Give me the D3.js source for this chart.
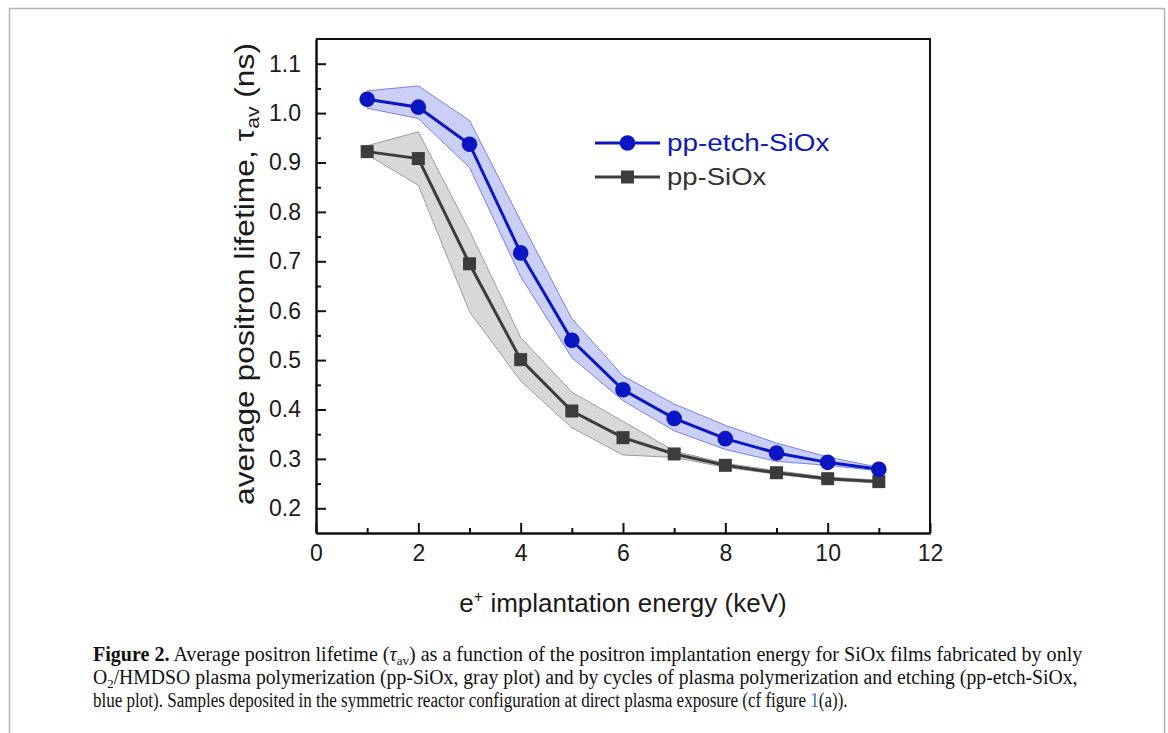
<!DOCTYPE html>
<html>
<head>
<meta charset="utf-8">
<script src="https://cdn.jsdelivr.net/npm/d3@7"></script>
<style>
  html, body { margin: 0; padding: 0; background: #fff; }
  svg { display: block; }
</style>
</head>
<body>
<svg id="fig" width="1168" height="733"></svg>
<script>
// Implantation energies (keV)
const energy = [1, 2, 3, 4, 5, 6, 7, 8, 9, 10, 11];

// pp-etch-SiOx: average lifetime and band limits (ns)
const etchTau  = [1.028, 1.012, 0.937, 0.717, 0.540, 0.440, 0.382, 0.341, 0.312, 0.293, 0.279];
const etchLow  = [1.010, 0.989, 0.890, 0.669, 0.505, 0.418, 0.357, 0.319, 0.295, 0.287, 0.276];
const etchHigh = [1.045, 1.055, 0.985, 0.782, 0.584, 0.468, 0.411, 0.368, 0.332, 0.304, 0.283];

// pp-SiOx: average lifetime and band limits (ns)
const siTau  = [0.922, 0.908, 0.695, 0.501, 0.397, 0.343, 0.310, 0.287, 0.272, 0.260, 0.254];
const siLow  = [0.916, 0.854, 0.598, 0.458, 0.363, 0.308, 0.303, 0.283, 0.269, 0.257, 0.251];
const siHigh = [0.934, 0.962, 0.762, 0.546, 0.435, 0.376, 0.316, 0.291, 0.276, 0.263, 0.257];

// Axis ticks
const xMajor = [0, 2, 4, 6, 8, 10, 12];
const xMinor = [1, 3, 5, 7, 9, 11];
const yMajor = [0.2, 0.3, 0.4, 0.5, 0.6, 0.7, 0.8, 0.9, 1.0, 1.1];
const yMinor = [0.25, 0.35, 0.45, 0.55, 0.65, 0.75, 0.85, 0.95, 1.05];

const seriesNames = ["pp-etch-SiOx", "pp-SiOx"];

const svg = d3.select("#fig");
const sansFont = "'Liberation Sans', Arial, sans-serif";
const serifFont = "'Liberation Serif', 'Times New Roman', serif";

// stretch or squeeze a text block horizontally (in its own frame) to a given width
function fitWidth(g, target) {
  const w = g.node().getBBox().width;
  return target / w;
}

// page frame
svg.append("path")
  .attr("d", "M9.5,740 V8.5 H1164.5 V740")
  .attr("fill", "none").attr("stroke", "#b4b4b4").attr("stroke-width", 1.5);

const L = 316, R = 930, T = 39, B = 533;
const x = d3.scaleLinear().domain([0, 12]).range([L, R]);
const y = d3.scaleLinear().domain([0.15, 1.15]).range([B, T]);

const blue = "#0a16c4";
const grey = "#3c3c3c";

function rows(tau, lo, hi) {
  return energy.map((e, i) => ({ e, v: tau[i], lo: lo[i], hi: hi[i] }));
}
const etch = rows(etchTau, etchLow, etchHigh);
const si = rows(siTau, siLow, siHigh);

const band = d3.area().x(d => x(d.e)).y0(d => y(d.lo)).y1(d => y(d.hi));
const line = d3.line().x(d => x(d.e)).y(d => y(d.v));

// uncertainty bands
svg.append("path").datum(si).attr("d", band)
  .attr("fill", "#d8d8d8").attr("stroke", "#9c9c9c").attr("stroke-width", 1);
svg.append("path").datum(etch).attr("d", band)
  .attr("fill", "#cbcff5").attr("stroke", "#7482e6").attr("stroke-width", 1);

// series lines
svg.append("path").datum(si).attr("d", line)
  .attr("fill", "none").attr("stroke", grey).attr("stroke-width", 3);
svg.append("path").datum(etch).attr("d", line)
  .attr("fill", "none").attr("stroke", blue).attr("stroke-width", 3);

// markers
const sq = 13;
svg.append("g").selectAll("rect").data(si).join("rect")
  .attr("x", d => x(d.e) - sq / 2).attr("y", d => y(d.v) - sq / 2)
  .attr("width", sq).attr("height", sq).attr("fill", grey);
svg.append("g").selectAll("circle").data(etch).join("circle")
  .attr("cx", d => x(d.e)).attr("cy", d => y(d.v)).attr("r", 7.8).attr("fill", blue);

// axes frame (top and right)
svg.append("path")
  .attr("d", `M${L},${T} H${R} V${B}`)
  .attr("fill", "none").attr("stroke", "#111").attr("stroke-width", 2);

function styleAxis(g) {
  g.select(".domain").attr("stroke", "#111").attr("stroke-width", 2);
  g.selectAll(".tick line").attr("stroke", "#111").attr("stroke-width", 2);
  g.selectAll(".tick text").attr("fill", "#1a1a1a")
    .style("font-family", sansFont).style("font-size", "23px");
}

// x axis
const gx = svg.append("g").attr("transform", `translate(0,${B})`)
  .call(d3.axisBottom(x).tickValues(xMajor).tickFormat(d3.format("d"))
    .tickSizeInner(-10).tickSizeOuter(0).tickPadding(12));
styleAxis(gx);
const gxm = svg.append("g").attr("transform", `translate(0,${B})`)
  .call(d3.axisBottom(x).tickValues(xMinor).tickFormat("")
    .tickSizeInner(-5).tickSizeOuter(0));
styleAxis(gxm);

// y axis
const gy = svg.append("g").attr("transform", `translate(${L},0)`)
  .call(d3.axisLeft(y).tickValues(yMajor).tickFormat(d3.format(".1f"))
    .tickSizeInner(-10).tickSizeOuter(0).tickPadding(15));
styleAxis(gy);
const gym = svg.append("g").attr("transform", `translate(${L},0)`)
  .call(d3.axisLeft(y).tickValues(yMinor).tickFormat("")
    .tickSizeInner(-5).tickSizeOuter(0));
styleAxis(gym);

// axis titles
const xt = svg.append("text")
  .attr("x", (L + R) / 2).attr("y", 612)
  .attr("text-anchor", "middle")
  .style("font-family", sansFont).style("font-size", "26px").attr("fill", "#1a1a1a");
xt.append("tspan").text("e");
xt.append("tspan").attr("dy", -10).style("font-size", "16px").text("+");
xt.append("tspan").attr("dy", 10).text(" implantation energy (keV)");

const ytWrap = svg.append("g");
const yt = ytWrap.append("text")
  .attr("text-anchor", "middle")
  .style("font-family", sansFont).style("font-size", "27px").attr("fill", "#1a1a1a");
yt.append("tspan").text("average positron lifetime, \u03c4");
yt.append("tspan").attr("dy", 5).style("font-size", "18px").text("av");
yt.append("tspan").attr("dy", -5).text(" (ns)");
const ytScale = fitWidth(yt, 462);
ytWrap.attr("transform", `translate(254,274) rotate(-90) scale(${ytScale},1)`);

// legend
const legend = [
  { name: seriesNames[0], color: blue, text: "#0c18b8", shape: "circle", cy: 143, w: 163 },
  { name: seriesNames[1], color: grey, text: "#333", shape: "square", cy: 177, w: 100 }
];
const lg = svg.append("g");
legend.forEach(d => {
  lg.append("line").attr("x1", 595).attr("x2", 660).attr("y1", d.cy).attr("y2", d.cy)
    .attr("stroke", d.color).attr("stroke-width", 3);
  if (d.shape === "circle") {
    lg.append("circle").attr("cx", 627.5).attr("cy", d.cy).attr("r", 7.8).attr("fill", d.color);
  } else {
    lg.append("rect").attr("x", 627.5 - sq / 2).attr("y", d.cy - sq / 2)
      .attr("width", sq).attr("height", sq).attr("fill", d.color);
  }
  const tg = lg.append("g");
  const t = tg.append("text").attr("x", 0).attr("y", 0)
    .style("font-family", sansFont).style("font-size", "23px")
    .attr("fill", d.text).text(d.name);
  tg.attr("transform", `translate(667,${d.cy + 8}) scale(${fitWidth(t, d.w)},1)`);
});

// caption, three lines
const cap = svg.append("g")
  .style("font-family", serifFont).style("font-size", "20px").attr("fill", "#111");

function captionLine(yPos, width, build) {
  const g = cap.append("g");
  const t = g.append("text").attr("x", 0).attr("y", 0);
  build(t);
  g.attr("transform", `translate(93,${yPos}) scale(${fitWidth(t, width)},1)`);
}

captionLine(661, 990, t => {
  t.append("tspan").style("font-weight", "bold").text("Figure 2.");
  t.append("tspan").text(" Average positron lifetime (");
  t.append("tspan").style("font-style", "italic").text("\u03c4");
  t.append("tspan").attr("dy", 4).style("font-size", "13px").text("av");
  t.append("tspan").attr("dy", -4).text(") as a function of the positron implantation energy for SiOx films fabricated by only");
});
captionLine(684, 985, t => {
  t.append("tspan").text("O");
  t.append("tspan").attr("dy", 4).style("font-size", "13px").text("2");
  t.append("tspan").attr("dy", -4).text("/HMDSO plasma polymerization (pp-SiOx, gray plot) and by cycles of plasma polymerization and etching (pp-etch-SiOx,");
});
captionLine(707, 755, t => {
  t.append("tspan").text("blue plot). Samples deposited in the symmetric reactor configuration at direct plasma exposure (cf figure ");
  t.append("tspan").attr("fill", "#2a6ebb").text("1");
  t.append("tspan").text("(a)).");
});
</script>
</body>
</html>
